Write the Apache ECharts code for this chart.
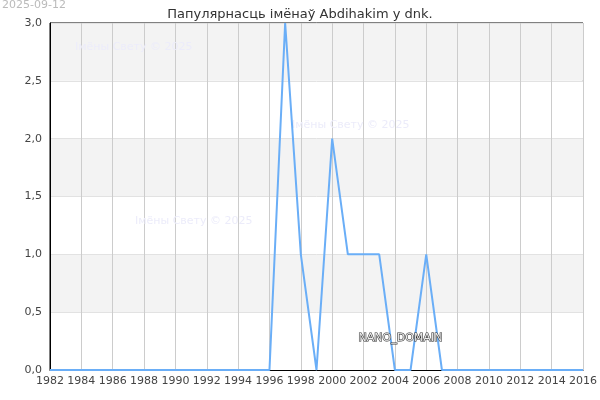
<!DOCTYPE html>
<html>
<head>
<meta charset="utf-8">
<script src="https://cdn.jsdelivr.net/npm/echarts@6/dist/echarts.min.js"></script>
<style>
  html, body { margin: 0; padding: 0; background: #fff; }
  #chart { width: 600px; height: 400px; }
</style>
</head>
<body>
<div id="chart"></div>
<script>
  var years = [1982, 1983, 1984, 1985, 1986, 1987, 1988, 1989, 1990, 1991, 1992, 1993, 1994, 1995, 1996,
    1997, 1998, 1999, 2000, 2001, 2002, 2003, 2004, 2005, 2006, 2007,
    2008, 2009, 2010, 2011, 2012, 2013, 2014, 2015, 2016];
  var counts = [0, 0, 0, 0, 0, 0, 0, 0, 0, 0, 0, 0, 0, 0, 0,
    3, 1, 0, 2, 1, 1, 1, 0, 0, 1, 0,
    0, 0, 0, 0, 0, 0, 0, 0, 0];
  var titleText = 'Папулярнасць імёнаў Abdihakim у dnk.';
  var dateText = '2025-09-12';
  var markText = 'Імёны Свету © 2025';

  var chart = echarts.init(document.getElementById('chart'));
  var font = 'DejaVu Sans';

  var points = years.map(function (y, i) { return [y, counts[i]]; });

  var option = {
    animation: false,
    textStyle: { fontFamily: font },
    title: {
      text: titleText,
      left: 'center',
      top: 3,
      textStyle: { fontFamily: font, fontSize: 13, fontWeight: 'normal', color: '#333' }
    },
    grid: {
      left: 50, right: 14, top: 23, bottom: 30,
      show: true, borderColor: '#000', borderWidth: 1, backgroundColor: 'transparent'
    },
    xAxis: {
      type: 'value',
      min: 1982, max: 2016, interval: 2,
      axisLine: { lineStyle: { color: '#000' } },
      axisTick: { show: false },
      axisLabel: {
        color: '#444', fontSize: 11, fontFamily: font, margin: 6,
        formatter: function (v) { return String(v); }
      },
      splitLine: { show: true, lineStyle: { color: '#ccc' } }
    },
    yAxis: {
      type: 'value',
      min: 0, max: 3, interval: 0.5,
      axisLine: { show: true, lineStyle: { color: '#000' } },
      axisTick: { show: false },
      axisLabel: {
        color: '#444', fontSize: 11, fontFamily: font, margin: 8,
        formatter: function (v) { return v.toFixed(1).replace('.', ','); }
      },
      splitLine: { show: true, lineStyle: { color: '#e2e2e2' } },
      splitArea: { show: true, areaStyle: { color: ['#ffffff', '#f3f3f3'] } }
    },
    graphic: [
      { type: 'text', left: 2, top: 0, style: { text: dateText, fill: '#bbb', font: '11px ' + font } },
      { type: 'text', left: 75, top: 42, z: 1, style: { text: markText, fill: '#ececfa', font: '11px ' + font } },
      { type: 'text', left: 292, top: 120, z: 1, style: { text: markText, fill: '#ececfa', font: '11px ' + font } },
      { type: 'text', left: 135, top: 216, z: 1, style: { text: markText, fill: '#ececfa', font: '11px ' + font } },
      { type: 'text', left: 358, top: 332, z: 100, style: { text: 'NANO_DOMAIN', fill: '#eee', stroke: '#333', lineWidth: 1.2, font: '11px ' + font } }
    ],
    series: [{
      type: 'line',
      data: points,
      showSymbol: false,
      lineStyle: { color: '#6aaef7', width: 2 },
      z: 3
    }]
  };
  chart.setOption(option);
</script>
</body>
</html>
